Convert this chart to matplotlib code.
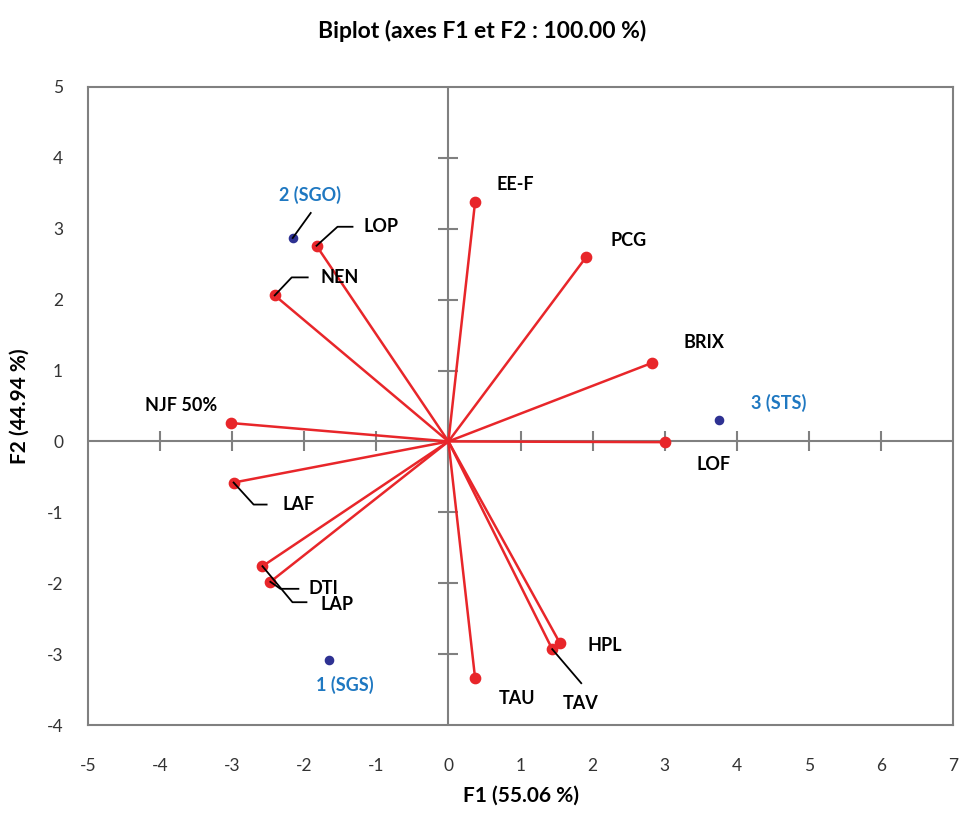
import matplotlib.pyplot as plt
import numpy as np

# Variable loadings (F1, F2)
var_names = ['EE-F', 'PCG', 'BRIX', 'LOF', 'HPL', 'TAV', 'TAU', 'LAP', 'DTI', 'LAF',
             'NJF 50%', 'NEN', 'LOP']
var_f1 = [0.37, 1.91, 2.83, 3.01, 1.55, 1.44, 0.37, -2.47, -2.58, -2.98, -3.02, -2.41, -1.83]
var_f2 = [3.38, 2.60, 1.11, -0.01, -2.85, -2.93, -3.34, -1.98, -1.76, -0.58, 0.26, 2.06, 2.76]

# Observation scores
obs_names = ['1 (SGS)', '2 (SGO)', '3 (STS)']
obs_f1 = [-1.66, -2.16, 3.75]
obs_f2 = [-3.08, 2.87, 0.30]

x_ticks = list(range(-5, 8))
y_ticks = list(range(-4, 6))

# label placement: text offset (px, screen y down) and optional leader polyline (px offsets)
var_label = {
    'EE-F': ((40, -17), None),
    'PCG': ((42, -17), None),
    'BRIX': ((52, -20), None),
    'LOF': ((48, 22), None),
    'HPL': ((45, 2), None),
    'TAV': ((28, 54), [(0, 0), (29, 34)]),
    'TAU': ((42, 20), None),
    'LAP': ((67, 23), [(0, 0), (10, 7), (28, 7)]),
    'DTI': ((61, 22), [(0, 0), (30, 36), (44, 36)]),
    'LAF': ((65, 22), [(0, 0), (20, 22), (33, 22)]),
    'NJF 50%': ((-50, -18), None),
    'NEN': ((65, -18), [(0, 0), (17, -18), (33, -18)]),
    'LOP': ((64, -19), [(0, 0), (21, -19), (36, -19)]),
}
obs_label = {
    '1 (SGS)': ((16, 25), None),
    '2 (SGO)': ((17, -43), [(0, 0), (18, -25)]),
    '3 (STS)': ((60, -17), None),
}

plt.rcParams['font.family'] = ['Lato', 'DejaVu Sans']
plt.rcParams['axes.unicode_minus'] = False

fig = plt.figure(figsize=(9.64, 8.15), dpi=100)
ax = fig.add_axes([0.0913, 0.1104, 0.8973, 0.7829])
ax.set_xlim(-5, 7)
ax.set_ylim(-4, 5)

grey = '#808080'
for s in ax.spines.values():
    s.set_color(grey)
    s.set_linewidth(1.5)

ax.set_xticks(x_ticks)
ax.set_yticks(y_ticks)
ax.tick_params(length=0, labelsize=12.5, labelcolor='#333333')
ax.tick_params(axis='x', pad=24)
ax.tick_params(axis='y', pad=18)

# centre axes with crossing ticks
ax.axhline(0, color=grey, lw=1.5, zorder=1)
ax.axvline(0, color=grey, lw=1.5, zorder=1)
ax.plot(x_ticks[1:-1], np.zeros(len(x_ticks) - 2), ls='none', marker='|',
        ms=14, mew=1.5, color=grey, zorder=1)
ax.plot(np.zeros(len(y_ticks) - 2), y_ticks[1:-1], ls='none', marker='_',
        ms=14, mew=1.5, color=grey, zorder=1)

red = '#e8262a'
for x, y in zip(var_f1, var_f2):
    ax.plot([0, x], [0, y], color=red, lw=1.8, zorder=2)
ax.scatter(var_f1, var_f2, s=55, color=red, zorder=3)
ax.scatter(obs_f1, obs_f2, s=35, color='#2e3192', zorder=3)

fig.canvas.draw()


def px_to_data(x, y, dx, dy):
    disp = ax.transData.transform((x, y))
    return ax.transData.inverted().transform((disp[0] + dx, disp[1] - dy))


def place(names, xs, ys, table, color):
    for name, x, y in zip(names, xs, ys):
        (tx, ty), leader = table[name]
        if leader:
            pts = np.array([px_to_data(x, y, dx, dy) for dx, dy in leader])
            ax.plot(pts[:, 0], pts[:, 1], color='black', lw=1.3, zorder=4)
        ax.annotate(name, (x, y), xytext=(tx * 0.72, -ty * 0.72),
                    textcoords='offset points', ha='center', va='center',
                    fontsize=13, fontweight='bold', color=color, zorder=5)


place(var_names, var_f1, var_f2, var_label, 'black')
place(obs_names, obs_f1, obs_f2, obs_label, '#1f78c1')

ax.set_xlabel('F1 (55.06 %)', fontsize=15, fontweight='bold', labelpad=8)
ax.set_ylabel('F2 (44.94 %)', fontsize=15, fontweight='bold', labelpad=12)
fig.suptitle('Biplot (axes F1 et F2 : 100.00 %)', fontsize=16.5, fontweight='bold', y=0.975)

fig.savefig('out.png', dpi=100)
